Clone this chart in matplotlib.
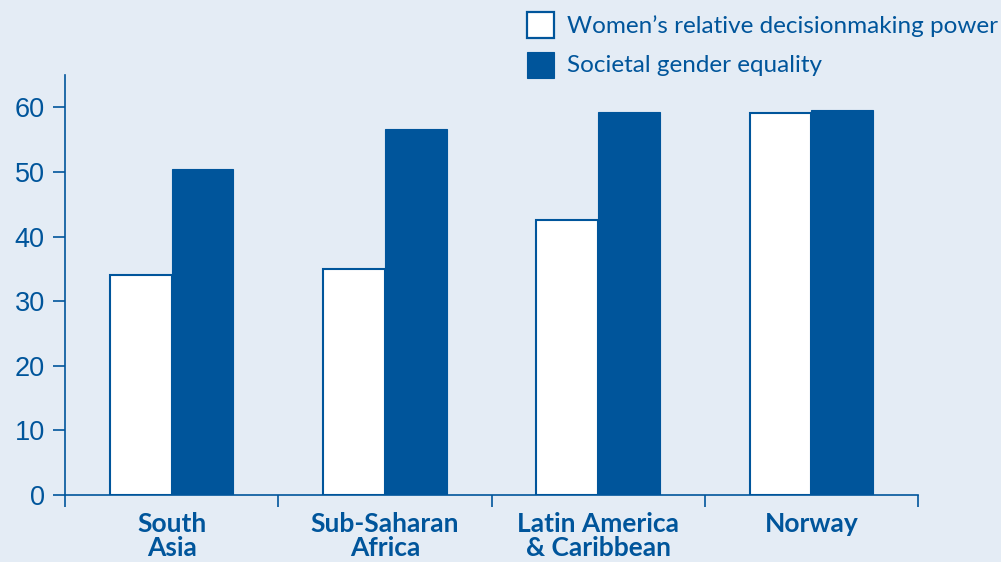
import numpy as np
import matplotlib.pyplot as plt
from matplotlib.patches import Rectangle

regions = ["South\nAsia", "Sub-Saharan\nAfrica", "Latin America\n& Caribbean", "Norway"]
women_power = [34.0, 34.9, 42.5, 59.1]
gender_equality = [50.4, 56.7, 59.2, 59.6]
legend_labels = ["Women\u2019s relative decisionmaking power", "Societal gender equality"]

blue = "#00559b"
bg = "#e4ecf5"
W, H = 1001, 562

fig = plt.figure(figsize=(10.01, 5.62), dpi=100, facecolor=bg)
ax = fig.add_axes([65 / W, 67 / H, 853 / W, 420 / H], facecolor=bg)

x = np.arange(len(regions)) + 0.5
w = 0.29
ax.bar(x - w / 2, women_power, w, color="white", edgecolor=blue, linewidth=1.5)
ax.bar(x + w / 2, gender_equality, w, color=blue, edgecolor=blue, linewidth=0.8)

ax.set_xlim(0, 4)
ax.set_ylim(0, 65)
ax.set_yticks(range(0, 61, 10))
ax.set_xticks(range(0, 5))
ax.set_xticklabels([])
ax.tick_params(axis="y", colors=blue, length=8.6, width=1.2, labelsize=19.5, pad=6)
ax.tick_params(axis="x", colors=blue, length=8.6, width=1.2, direction="out")
for lab in ax.get_yticklabels():
    lab.set_family("Liberation Sans")
for side in ["top", "right"]:
    ax.spines[side].set_visible(False)
for side in ["left", "bottom"]:
    ax.spines[side].set_color(blue)
    ax.spines[side].set_linewidth(1.2)

for xi, name in zip(x, regions):
    ax.text(xi, -2.6, name, ha="center", va="top", color=blue, fontsize=19,
            fontweight="bold", family="Lato", linespacing=1.02, clip_on=False)

# legend drawn by hand so it sits where the original one is
styles = [dict(facecolor="white", edgecolor=blue, linewidth=1.6),
          dict(facecolor=blue, edgecolor=blue, linewidth=0.8)]
for i, (lab, st) in enumerate(zip(legend_labels, styles)):
    top = 12 + 40 * i
    fig.patches.append(Rectangle((527 / W, 1 - (top + 26) / H), 27 / W, 26 / H,
                                 transform=fig.transFigure, **st))
    fig.text(567 / W, 1 - (top + 14) / H, lab, ha="left", va="center",
             color=blue, fontsize=17.5, family="Lato")

fig.savefig("out.png", dpi=100, facecolor=bg)
